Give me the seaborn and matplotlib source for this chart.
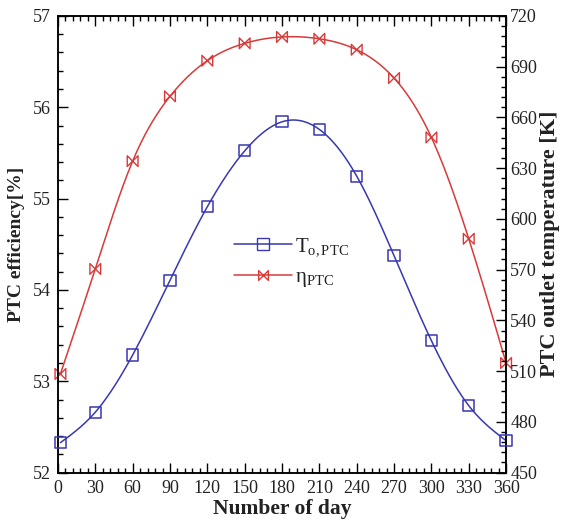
import numpy as np
import pandas as pd
import matplotlib
matplotlib.use("Agg")
import matplotlib.pyplot as plt
from matplotlib.path import Path
from matplotlib.lines import Line2D
from matplotlib.ticker import MultipleLocator
import seaborn as sns

# ---- data ----
days = [2, 30, 60, 90, 120, 150, 180, 210, 240, 270, 300, 330, 360]
efficiency = [53.08, 54.23, 55.41, 56.12, 56.51, 56.70, 56.77, 56.75, 56.63, 56.32, 55.67, 54.56, 53.20]
outlet_temp = [467.7, 485.7, 519.5, 563.7, 607.2, 640.2, 657.4, 652.9, 625.3, 578.2, 528.0, 489.6, 468.9]
x_ticks = list(range(0, 361, 30))
left_ticks = [52, 53, 54, 55, 56, 57]
right_ticks = list(range(450, 721, 30))

BLUE = "#3838b0"
RED = "#d83a3a"
TXT = "#222222"


def natural_spline(x, y, n=400):
    x = np.asarray(x, float)
    y = np.asarray(y, float)
    m = len(x)
    h = np.diff(x)
    A = np.zeros((m, m))
    b = np.zeros(m)
    A[0, 0] = A[-1, -1] = 1
    for i in range(1, m - 1):
        A[i, i - 1] = h[i - 1]
        A[i, i] = 2 * (h[i - 1] + h[i])
        A[i, i + 1] = h[i]
        b[i] = 6 * ((y[i + 1] - y[i]) / h[i] - (y[i] - y[i - 1]) / h[i - 1])
    M = np.linalg.solve(A, b)
    xs = np.linspace(x[0], x[-1], n)
    idx = np.clip(np.searchsorted(x, xs) - 1, 0, m - 2)
    x0, x1 = x[idx], x[idx + 1]
    hh = x1 - x0
    t0, t1 = x1 - xs, xs - x0
    ys = (M[idx] * t0 ** 3 + M[idx + 1] * t1 ** 3) / (6 * hh) \
        + (y[idx] / hh - M[idx] * hh / 6) * t0 \
        + (y[idx + 1] / hh - M[idx + 1] * hh / 6) * t1
    return xs, ys


sns.set_style("white")
plt.rcParams["font.family"] = ["Liberation Serif", "DejaVu Serif"]
plt.rcParams["mathtext.fontset"] = "custom"
plt.rcParams["mathtext.rm"] = "Liberation Serif"
plt.rcParams["mathtext.it"] = "Liberation Serif:italic"

fig = plt.figure(figsize=(5.68, 5.31), dpi=100)
ax = fig.add_axes([0.102, 0.110, 0.789, 0.860])
ax2 = ax.twinx()

bowtie = Path([(-1, 1), (1, -1), (1, 1), (-1, -1), (-1, 1)],
              [Path.MOVETO, Path.LINETO, Path.LINETO, Path.LINETO, Path.CLOSEPOLY])

# efficiency (left axis)
xs, ys = natural_spline(days, efficiency)
sns.lineplot(x=xs, y=ys, ax=ax, color=RED, lw=1.1, sort=False)
ax.scatter(days, efficiency, marker=bowtie, s=60, facecolors="none",
           edgecolors=RED, linewidths=1.0, zorder=3, clip_on=False)

# outlet temperature (right axis)
xs2, ys2 = natural_spline(days, outlet_temp)
sns.lineplot(x=xs2, y=ys2, ax=ax2, color=BLUE, lw=1.1, sort=False)
ax2.scatter(days, outlet_temp, marker="s", s=65, facecolors="none",
            edgecolors=BLUE, linewidths=1.1, zorder=3, clip_on=False)

ax.set_xlim(0, 360)
ax.set_ylim(52, 57)
ax2.set_ylim(450, 720)
ax.set_xticks(x_ticks)
ax.set_yticks(left_ticks)
ax2.set_yticks(right_ticks)
ax.xaxis.set_minor_locator(MultipleLocator(6))
ax.yaxis.set_minor_locator(MultipleLocator(0.2))
ax2.yaxis.set_minor_locator(MultipleLocator(6))

for a in (ax, ax2):
    for s in a.spines.values():
        s.set_color("black")
        s.set_linewidth(1.1)

ax.tick_params(which="both", direction="in", top=True, right=False, bottom=True,
               left=True, labelsize=13, color="black", labelcolor=TXT, width=1.0)
ax.tick_params(which="major", length=7, pad=5)
ax.tick_params(which="minor", length=3.5)
ax2.tick_params(which="both", direction="in", right=True, left=False, top=False,
                bottom=False, labelsize=13, color="black", labelcolor=TXT, width=1.0)
ax2.tick_params(which="major", length=7, pad=3)
ax2.tick_params(which="minor", length=3.5)

ax.set_xlabel("Number of day", fontsize=15.5, fontweight="bold", labelpad=2, color=TXT)
ax.set_ylabel("PTC efficiency[%]", fontsize=14, fontweight="bold", labelpad=6, color=TXT)
ax2.set_ylabel("PTC outlet temperature [K]", fontsize=16, fontweight="bold", labelpad=2, color=TXT)

handles = [
    Line2D([], [], color=BLUE, lw=1.1, marker="s", markersize=8,
           markerfacecolor="none", markeredgecolor=BLUE),
    Line2D([], [], color=RED, lw=1.1, marker=bowtie, markersize=7,
           markerfacecolor="none", markeredgecolor=RED),
]
labels = [r"$\mathrm{T}_{\mathrm{o,PTC}}$", "η$_{\\mathrm{PTC}}$"]
leg = ax.legend(handles, labels, loc="center left", bbox_to_anchor=(0.35, 0.46),
                frameon=False, fontsize=15, handlelength=2.8, labelspacing=0.45,
                handletextpad=0.15)
for t in leg.get_texts():
    t.set_color(TXT)

fig.savefig("out.png", dpi=100)
